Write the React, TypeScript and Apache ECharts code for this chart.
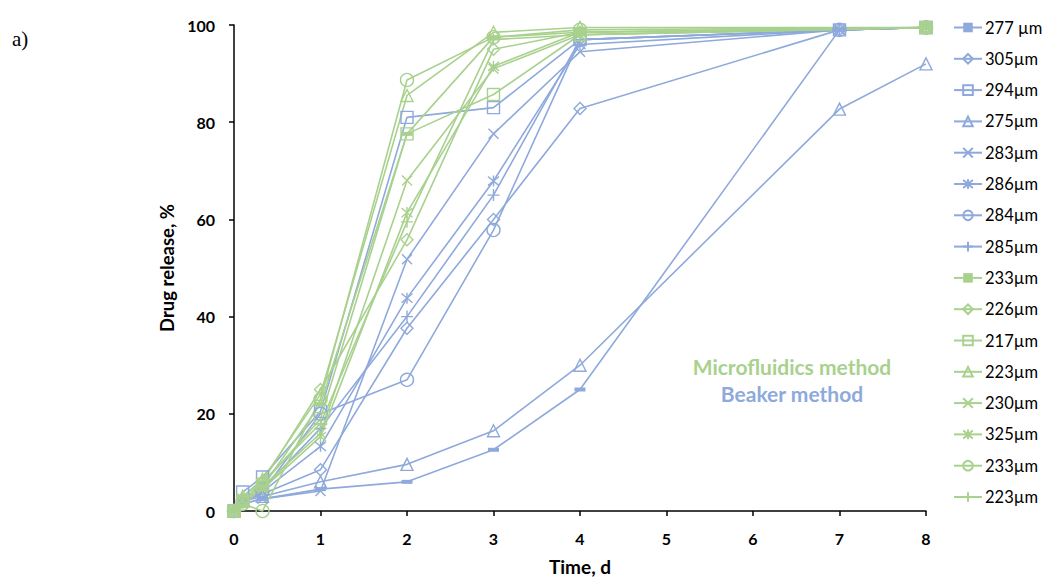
import React, { useEffect, useRef } from "react";
import * as echarts from "echarts";

const times = [0, 0.1, 0.33, 1, 2, 3, 4, 7, 8];

// Beaker method (blue)
const b277 = [0, 1.5, 2.5, 4.5, 6, 12.6, 25, 99, 99.5];
const b305 = [0, 2, 3.5, 8.5, 37.6, 60, 82.8, 99, 99.5];
const b294 = [0, 3.9, 7, 20.5, 81, 83, 97, 99, 99.5];
const b275 = [0, 2, 3, 6, 9.6, 16.5, 30, 82.7, 92];
const b283 = [0, 1.5, 2.5, 4.1, 51.8, 77.6, 94.5, 99, 99.5];
const b286 = [0, 2, 4, 13.3, 43.8, 67.9, 96, 99, 99.5];
const b284 = [0, 2, 4, 20, 27, 57.8, 97, 99, 99.5];
const b285 = [0, 2, 4.5, 17, 40, 65, 97, 99, 99.5];

// Microfluidics method (green), no reading at day 7
const g233a = [0, 1, 5, 22, 77.6, 97.5, 98.5, null, 99.5];
const g226 = [0, 2, 6, 25, 55.8, 95, 98.5, null, 99.5];
const g217 = [0, 2, 5.5, 19, 77.6, 85.7, 98, null, 99.5];
const g223a = [0, 3, 6.5, 24, 85.5, 98.5, 99.5, null, 99.5];
const g230 = [0, 2.5, 5, 16, 68, 91, 98, null, 99.5];
const g325 = [0, 2, 4.5, 15.3, 61.4, 91.5, 98.5, null, 99.5];
const g233b = [0, 1.5, 0, 23, 88.7, 97.5, 99, null, 99.5];
const g223b = [0, 3, 6, 18, 59.5, 97, 98, null, 99.5];

const xTicks = [0, 1, 2, 3, 4, 5, 6, 7, 8];

const BLUE = "#8EA9DB";
const GREEN = "#A9D18E";

const SYM = {
  dash: "path://M0,0H12V4H0Z",
  x: "path://M0,0L10,10M10,0L0,10",
  ast: "path://M0,0L10,10M10,0L0,10M5,-1L5,11",
  plus: "path://M5,0L5,10M0,5L10,5",
};

type Def = { key: string; label: string; data: (number | null)[]; color: string; sym: string };

const defs: Def[] = [
  { key: "b277", label: "277 µm", data: b277, color: BLUE, sym: "dash" },
  { key: "b305", label: "305µm", data: b305, color: BLUE, sym: "diamond" },
  { key: "b294", label: "294µm", data: b294, color: BLUE, sym: "rect" },
  { key: "b275", label: "275µm", data: b275, color: BLUE, sym: "triangle" },
  { key: "b283", label: "283µm", data: b283, color: BLUE, sym: "x" },
  { key: "b286", label: "286µm", data: b286, color: BLUE, sym: "ast" },
  { key: "b284", label: "284µm", data: b284, color: BLUE, sym: "circle" },
  { key: "b285", label: "285µm", data: b285, color: BLUE, sym: "plus" },
  { key: "g233a", label: "233µm", data: g233a, color: GREEN, sym: "dash" },
  { key: "g226", label: "226µm", data: g226, color: GREEN, sym: "diamond" },
  { key: "g217", label: "217µm", data: g217, color: GREEN, sym: "rect" },
  { key: "g223a", label: "223µm", data: g223a, color: GREEN, sym: "triangle" },
  { key: "g230", label: "230µm", data: g230, color: GREEN, sym: "x" },
  { key: "g325", label: "325µm", data: g325, color: GREEN, sym: "ast" },
  { key: "g233b", label: "233µm", data: g233b, color: GREEN, sym: "circle" },
  { key: "g223b", label: "223µm", data: g223b, color: GREEN, sym: "plus" },
];

function symbolFor(s: string): { symbol: string; size: number | number[] } {
  switch (s) {
    case "dash":
      return { symbol: SYM.dash, size: [11, 4] };
    case "diamond":
      return { symbol: "diamond", size: 12 };
    case "rect":
      return { symbol: "rect", size: 12 };
    case "triangle":
      return { symbol: "triangle", size: 12 };
    case "x":
      return { symbol: SYM.x, size: 10 };
    case "ast":
      return { symbol: SYM.ast, size: 11 };
    case "circle":
      return { symbol: "circle", size: 13 };
    default:
      return { symbol: SYM.plus, size: 12 };
  }
}

export default function App() {
  const ref = useRef<HTMLDivElement>(null);
  useEffect(() => {
    if (!ref.current) return;
    const chart = echarts.init(ref.current, null, { renderer: "svg" });
    const labelMap: Record<string, string> = {};
    defs.forEach((d) => (labelMap[d.key] = d.label));
    const series = defs.map((d) => {
      const s = symbolFor(d.sym);
      const filled = d.sym === "dash";
      return {
        name: d.key,
        type: "line",
        data: times.map((t, i) => [t, d.data[i]]),
        connectNulls: true,
        clip: false,
        symbol: s.symbol,
        symbolSize: s.size,
        showAllSymbol: true,
        lineStyle: { color: d.color, width: 1.6 },
        itemStyle: filled
          ? { color: d.color, borderWidth: 0 }
          : { color: "rgba(255,255,255,0)", borderColor: d.color, borderWidth: 1.4 },
        emphasis: { disabled: true },
      };
    });
    chart.setOption({
      animation: false,
      grid: { left: 234, top: 25, width: 692, height: 493 },
      legend: {
        orient: "vertical",
        left: 948,
        top: 14,
        itemWidth: 28,
        itemHeight: 12,
        itemGap: 14.3,
        data: defs.map((d) => d.key),
        formatter: (n: string) => labelMap[n],
        textStyle: { fontFamily: "Lato", fontSize: 16.5, color: "#000", padding: [0, 0, 0, -2] },
        selectedMode: false,
      },
      xAxis: {
        type: "value",
        min: 0,
        max: 8,
        interval: 1,
        name: "Time, d",
        nameLocation: "middle",
        nameGap: 46,
        nameTextStyle: { fontFamily: "Lato", fontWeight: "bold", fontSize: 19, color: "#000" },
        axisLine: { show: true, lineStyle: { color: "#000", width: 1.5 } },
        axisTick: { show: true, length: 5, lineStyle: { color: "#000", width: 1.5 } },
        axisLabel: {
          fontFamily: "Lato",
          fontWeight: "bold",
          fontSize: 16,
          color: "#000",
          margin: 19,
          formatter: (v: number) => (xTicks.includes(v) ? String(v) : ""),
        },
        splitLine: { show: false },
      },
      yAxis: {
        type: "value",
        min: 0,
        max: 100,
        interval: 20,
        name: "Drug release, %",
        nameLocation: "middle",
        nameGap: 55,
        nameTextStyle: { fontFamily: "Lato", fontWeight: "bold", fontSize: 18.5, color: "#000" },
        axisLine: { show: true, lineStyle: { color: "#000", width: 1.5 } },
        axisTick: { show: true, length: 5, lineStyle: { color: "#000", width: 1.5 } },
        axisLabel: { fontFamily: "Lato", fontWeight: "bold", fontSize: 16, color: "#000", margin: 19 },
        splitLine: { show: false },
      },
      graphic: [
        {
          type: "text",
          left: 12,
          top: 28,
          style: { text: "a)", fontFamily: "Liberation Serif", fontSize: 21, fill: "#000" },
        },
        {
          type: "text",
          x: 792,
          y: 366,
          style: {
            text: "Microfluidics method",
            fontFamily: "Lato",
            fontWeight: "bold",
            fontSize: 21,
            fill: GREEN,
            align: "center",
            verticalAlign: "middle",
          },
        },
        {
          type: "text",
          x: 792,
          y: 393,
          style: {
            text: "Beaker method",
            fontFamily: "Lato",
            fontWeight: "bold",
            fontSize: 21,
            fill: BLUE,
            align: "center",
            verticalAlign: "middle",
          },
        },
      ],
      series,
    });
    return () => chart.dispose();
  }, []);
  return (
    <div
      ref={ref}
      style={{ position: "fixed", left: 0, top: 0, width: 1044, height: 581, background: "#fff" }}
    />
  );
}
